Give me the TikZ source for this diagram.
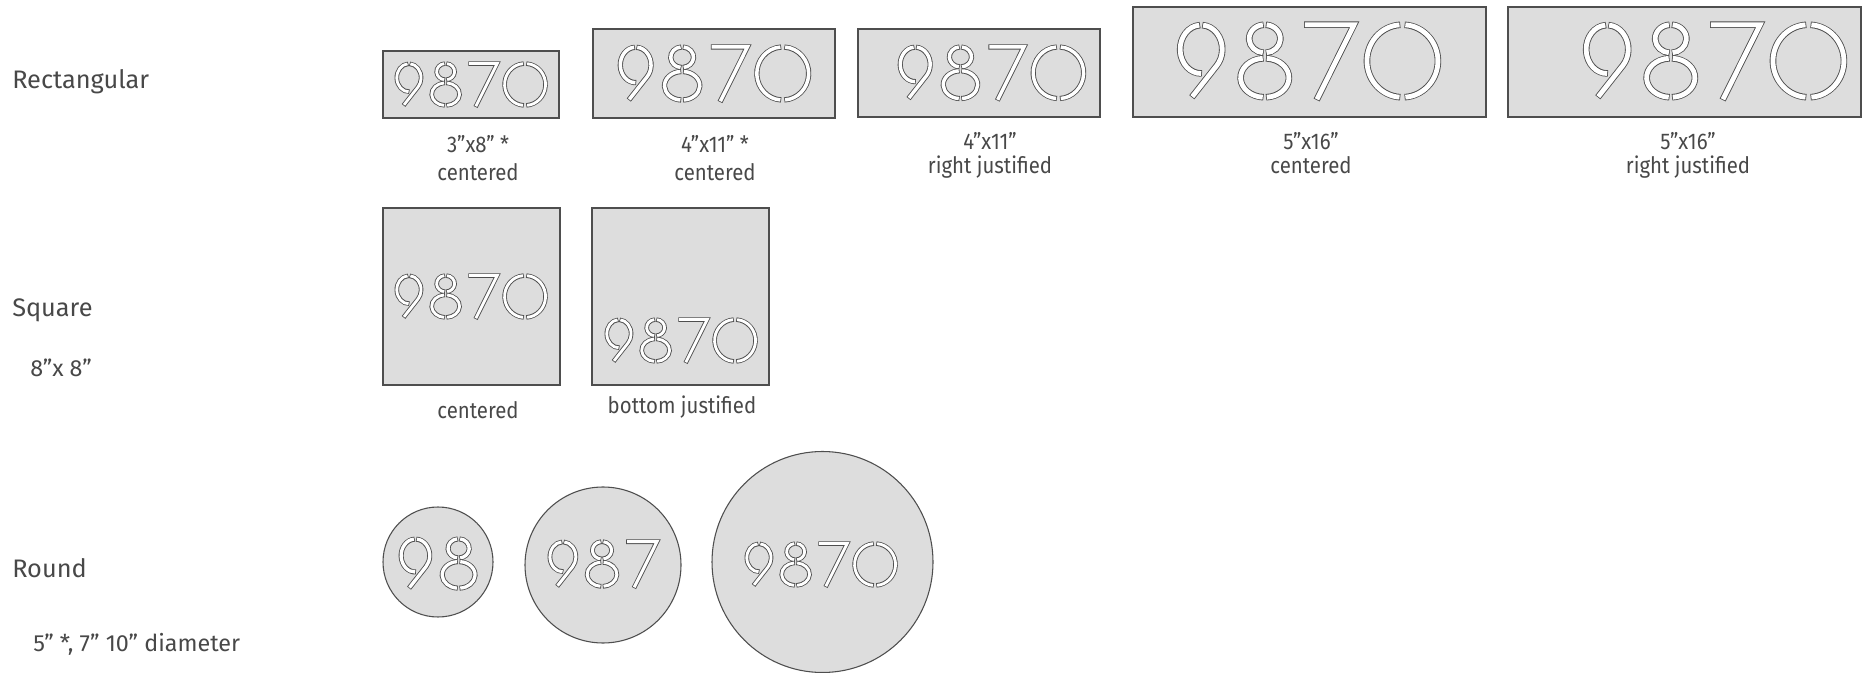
\documentclass[tikz,border=0pt]{standalone}
\usepackage{fontspec}
\setmainfont{Fira Sans}
\newfontfamily\capfont[FakeStretch=0.9]{Fira Sans}
\definecolor{plategray}{RGB}{221,221,221}
\definecolor{edgegray}{RGB}{78,78,78}
\definecolor{inkgray}{RGB}{72,72,72}

\tikzset{
  stemw/.store in=\stemw, stemw=4,
  stencil/.style={draw=white, line width=\stemw*0.75pt, line cap=butt, line join=miter,
    shorten <=0.6pt, shorten >=0.6pt,
    preaction={draw=edgegray, line width=\stemw*0.75pt+1.3pt, shorten <=0pt, shorten >=0pt}},
  plate/.style={draw=edgegray, fill=plategray, line width=1.1pt},
  disc/.style={draw=edgegray, fill=plategray, line width=0.8pt},
  capline/.style={font={\capfont\fontsize{17}{20}\selectfont}, text=inkgray, inner sep=0pt, anchor=base},
  rowlbl/.style={font={\fontsize{19}{22}\selectfont}, text=inkgray, inner sep=0pt, anchor=base west},
  notelbl/.style={font={\fontsize{17.5}{20}\selectfont}, text=inkgray, inner sep=0pt, anchor=base west},
}

% stencil digits, 100 units high, y running down
\newcommand{\ninecut}{%
  \draw[stencil] (32.41,4.04) arc[start angle=-87, end angle=42.1, x radius=27, y radius=31] -- (19,96.5);
  \draw[stencil] (29.59,4.04) arc[start angle=-93, end angle=-272, x radius=27, y radius=31];}
\newcommand{\eightcut}{%
  \draw[stencil] (35.90,3.54) arc[start angle=-86, end angle=86, x radius=20, y radius=18];
  \draw[stencil] (33.10,3.54) arc[start angle=-94, end angle=-266, x radius=20, y radius=18];
  \draw[stencil] (36.12,46.53) arc[start angle=-87, end angle=87, x radius=31, y radius=25];
  \draw[stencil] (32.88,46.53) arc[start angle=-93, end angle=-267, x radius=31, y radius=25];}
\newcommand{\sevencut}{%
  \draw[stencil] (1,3.5) -- (65,3.5) -- (17,100);}
\newcommand{\zerocut}{%
  \draw[stencil] (51.78,3.59) arc[start angle=-86.5, end angle=86.5, x radius=45.5, y radius=46.5];
  \draw[stencil] (46.22,3.59) arc[start angle=-93.5, end angle=-266.5, x radius=45.5, y radius=46.5];}
% #1,#2 top left, #3 scale, #4 stem width
\newcommand{\numset}[4]{%
  \begin{scope}[shift={(#1,#2)}, scale=#3, stemw=#4]
    \ninecut
    \begin{scope}[shift={(78,0)}]\eightcut\end{scope}
    \begin{scope}[shift={(162,0)}]\sevencut\end{scope}
    \begin{scope}[shift={(240,0)}]\zerocut\end{scope}
  \end{scope}}

\begin{document}
\begin{tikzpicture}[x=0.75pt,y=0.75pt,yscale=-1,xscale=1]
\useasboundingbox (0,0) rectangle (1866,673);

%Shape: Rectangle 3x8
\draw [plate] (383,51) rectangle (559,118);
\numset{395}{62}{0.45}{2.8}
%Shape: Rectangle 4x11
\draw [plate] (593,29) rectangle (835,118);
\numset{618}{45}{0.57}{3.5}
%Shape: Rectangle 4x11 right
\draw [plate] (858,29) rectangle (1100,117);
\numset{898}{45}{0.555}{3.4}
%Shape: Rectangle 5x16
\draw [plate] (1133,7) rectangle (1486,117);
\numset{1177}{22}{0.78}{4.8}
%Shape: Rectangle 5x16 right
\draw [plate] (1508,7) rectangle (1861,117);
\numset{1583}{22}{0.78}{4.8}

%Shape: Square centered
\draw [plate] (383,208) rectangle (560,385);
\numset{395}{274}{0.45}{2.8}
%Shape: Square bottom
\draw [plate] (592,208) rectangle (769,385);
\numset{605}{318}{0.45}{2.8}

%Shape: Circle 5
\draw [disc] (438,562) circle [radius=55];
\begin{scope}[shift={(399,537)}, scale=0.53, stemw=3.3]
\ninecut
\begin{scope}[shift={(78,0)}]\eightcut\end{scope}
\end{scope}
%Shape: Circle 7
\draw [disc] (603,565) circle [radius=78];
\begin{scope}[shift={(548,540)}, scale=0.48, stemw=3.0]
\ninecut
\begin{scope}[shift={(78,0)}]\eightcut\end{scope}
\begin{scope}[shift={(162,0)}]\sevencut\end{scope}
\end{scope}
%Shape: Circle 10
\draw [disc] (822.5,562) circle [radius=110.5];
\numset{745}{542}{0.45}{2.8}

% Text Node
\draw (12,89) node (rowrect) [rowlbl] {Rectangular};
% Text Node
\draw (12,317) node (rowsq) [rowlbl] {Square};
% Text Node
\draw (30,377) node (notesq) [notelbl] {8”x 8”};
% Text Node
\draw (12,577) node (rowround) [rowlbl] {Round};
% Text Node
\draw (33,651) node (noteround) [notelbl] {5” *, 7” 10” diameter};

% Text Node
\draw (478,153) node (capa) [capline] {3”x8” *};
\draw (478,181) node (capaa) [capline] {centered};
% Text Node
\draw (715,153) node (capb) [capline] {4”x11” *};
\draw (715,181) node (capbb) [capline] {centered};
% Text Node
\draw (990,150) node (capc) [capline] {4”x11”};
\draw (990,174) node (capcc) [capline] {right justified};
% Text Node
\draw (1311,150) node (capd) [capline] {5”x16”};
\draw (1311,174) node (capdd) [capline] {centered};
% Text Node
\draw (1688,150) node (cape) [capline] {5”x16”};
\draw (1688,174) node (capee) [capline] {right justified};
% Text Node
\draw (478,418) node (capf) [capline] {centered};
% Text Node
\draw (682,413) node (capg) [capline] {bottom justified};

\end{tikzpicture}
\end{document}
